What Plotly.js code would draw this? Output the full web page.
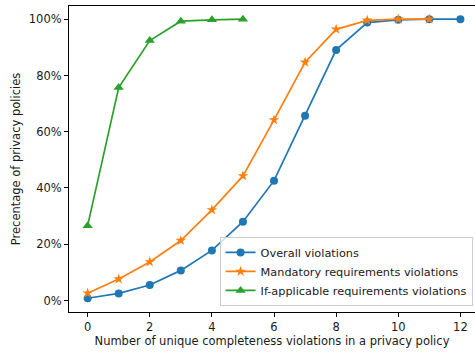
<!DOCTYPE html>
<html>
<head>
<meta charset="utf-8">
<script src="https://cdn.plot.ly/plotly-3.0.1.min.js"></script>
<style>html,body{margin:0;padding:0;background:#fff;}#chart{width:475px;height:352px;}</style>
</head>
<body>
<div id="chart"></div>
<script>
const xOverall = [0,1,2,3,4,5,6,7,8,9,10,11,12];
const overall = [0.008,0.025,0.055,0.107,0.178,0.28,0.426,0.657,0.891,0.988,0.998,1.0,1.0];
const xMandatory = [0,1,2,3,4,5,6,7,8,9,10,11];
const mandatory = [0.026,0.076,0.137,0.213,0.322,0.443,0.642,0.847,0.964,0.996,1.0,1.0];
const xIfApplicable = [0,1,2,3,4,5];
const ifApplicable = [0.266,0.757,0.924,0.993,0.998,1.0];
const names = ["Overall violations","Mandatory requirements violations","If-applicable requirements violations"];
const yTickVals = [0,0.2,0.4,0.6,0.8,1.0];
const yTickText = ["0%","20%","40%","60%","80%","100%"];
const xTickVals = [0,2,4,6,8,10,12];

const font = {family: "DejaVu Sans", size: 11.5, color: "#1a1a1a"};
const legendFont = {family: "DejaVu Sans", size: 11.3, color: "#1a1a1a"};
const traces = [
  {x: xOverall, y: overall, name: names[0], mode: "lines+markers",
   line: {color: "#1f77b4", width: 1.7}, marker: {symbol: "circle", size: 8, color: "#1f77b4"}},
  {x: xMandatory, y: mandatory, name: names[1], mode: "lines+markers",
   line: {color: "#ff7f0e", width: 1.7}, marker: {symbol: "star", size: 8, color: "#ff7f0e"}},
  {x: xIfApplicable, y: ifApplicable, name: names[2], mode: "lines+markers",
   line: {color: "#2ca02c", width: 1.7}, marker: {symbol: "triangle-up", size: 9, color: "#2ca02c"}}
];
const layout = {
  width: 475, height: 352,
  margin: {l: 68.5, r: 0, t: 6, b: 39.7, pad: 0},
  paper_bgcolor: "#fff", plot_bgcolor: "#fff",
  font: font,
  showlegend: true,
  legend: {x: 0.994, xanchor: "right", y: 0.02, yanchor: "bottom",
           bgcolor: "rgba(255,255,255,0.8)", bordercolor: "#cccccc", borderwidth: 1,
           font: legendFont, tracegroupgap: 0, itemwidth: 30},
  xaxis: {range: [-0.6, 12.47], tickvals: xTickVals, showgrid: false, zeroline: false,
          showline: true, linecolor: "#000", linewidth: 1, mirror: true,
          ticks: "outside", ticklen: 4, tickcolor: "#000", tickfont: font,
          title: {text: "Number of unique completeness violations in a privacy policy", font: font, standoff: 4}},
  yaxis: {range: [-0.041, 1.047], tickvals: yTickVals, ticktext: yTickText, showgrid: false, zeroline: false,
          showline: true, linecolor: "#000", linewidth: 1,
          ticks: "outside", ticklen: 4, tickcolor: "#000", tickfont: font,
          title: {text: "Precentage of privacy policies", font: font, standoff: 5}}
};
Plotly.newPlot("chart", traces, layout, {displayModeBar: false, staticPlot: true});
</script>
</body>
</html>
